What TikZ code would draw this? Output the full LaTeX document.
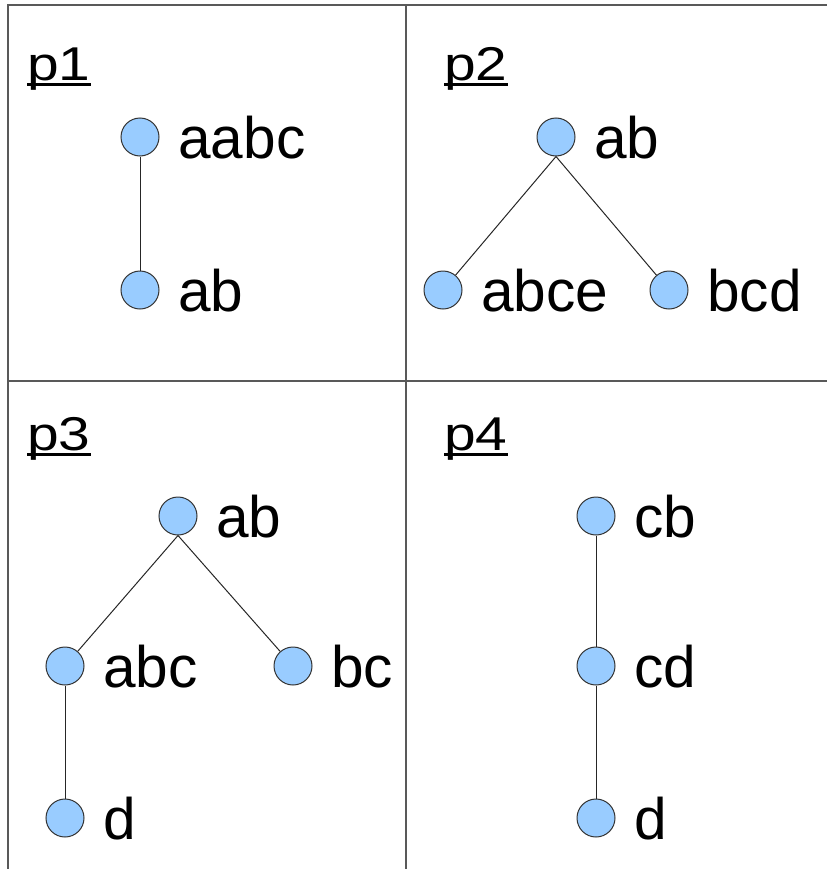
\documentclass[tikz,border=0pt]{standalone}
\usepackage{fontspec}
\setmainfont{Liberation Sans}
\usetikzlibrary{positioning}

\definecolor{nodeblue}{HTML}{99CCFF}
\tikzset{
  vtx/.style={circle, draw=black!80, fill=nodeblue, line width=0.03cm, minimum size=1.14cm, inner sep=0pt},
  lbl/.style={inner sep=0pt, text height=1.26cm, text depth=0pt, font=\fontsize{50pt}{52pt}\selectfont},
  plbl/.style={inner sep=0pt, anchor=base west, font=\fontsize{40.5pt}{42pt}\selectfont},
  panel/.style={draw=black!65, line width=0.06cm},
  edge/.style={draw=black!85, line width=0.03cm},
  uline/.style={line width=0.09cm},
}

\begin{document}
\begin{tikzpicture}[x=0.03cm, y=-0.03cm, node distance=0.56cm]
    \useasboundingbox (0,0) rectangle (827,869);
    % panels
    \draw[panel] (8,869) -- (8,5) -- (827,5);
    \draw[panel] (406,5) -- (406,869);
    \draw[panel] (8,381) -- (827,381);

    % panel titles
    \node[plbl] (p1) at (27,80)  {\scalebox{1.2}[1]{p1}};
    \node[plbl] (p2) at (444,80) {\scalebox{1.2}[1]{p2}};
    \node[plbl] (p3) at (27,450) {\scalebox{1.2}[1]{p3}};
    \node[plbl] (p4) at (444,450) {\scalebox{1.2}[1]{p4}};
    \foreach \p in {p1,p2,p3,p4}
        \draw[uline] ([yshift=-0.135cm]\p.base west) -- ([yshift=-0.135cm]\p.base east);

    % p1
    \node[vtx] (aabc) at (140,137) {};
    \node[vtx] (ab1)  at (140,290) {};
    \node[lbl, right=of aabc] (taabc) {aabc};
    \node[lbl, right=of ab1]  (tab1)  {ab};
    \draw[edge] (aabc) -- (ab1);

    % p2
    \node[vtx] (ab2)  at (556,137) {};
    \node[vtx] (abce) at (443,290) {};
    \node[vtx] (bcd)  at (669,290) {};
    \node[lbl, right=of ab2]  (tab2)  {ab};
    \node[lbl, right=of abce] (tabce) {abce};
    \node[lbl, right=of bcd]  (tbcd)  {bcd};
    \draw[edge] (ab2.south) -- (abce);
    \draw[edge] (ab2.south) -- (bcd);

    % p3
    \node[vtx] (ab3) at (178,516) {};
    \node[vtx] (abc) at (65,666)  {};
    \node[vtx] (bc)  at (293,666) {};
    \node[vtx] (d3)  at (65,818)  {};
    \node[lbl, right=of ab3] (tab3) {ab};
    \node[lbl, right=of abc] (tabc) {abc};
    \node[lbl, right=of bc]  (tbc)  {bc};
    \node[lbl, right=of d3]  (td3)  {d};
    \draw[edge] (ab3.south) -- (abc);
    \draw[edge] (ab3.south) -- (bc);
    \draw[edge] (abc) -- (d3);

    % p4
    \node[vtx] (cb) at (596,516) {};
    \node[vtx] (cd) at (596,666) {};
    \node[vtx] (d4) at (596,818) {};
    \node[lbl, right=of cb] (tcb) {cb};
    \node[lbl, right=of cd] (tcd) {cd};
    \node[lbl, right=of d4] (td4) {d};
    \draw[edge] (cb) -- (cd);
    \draw[edge] (cd) -- (d4);
\end{tikzpicture}
\end{document}
